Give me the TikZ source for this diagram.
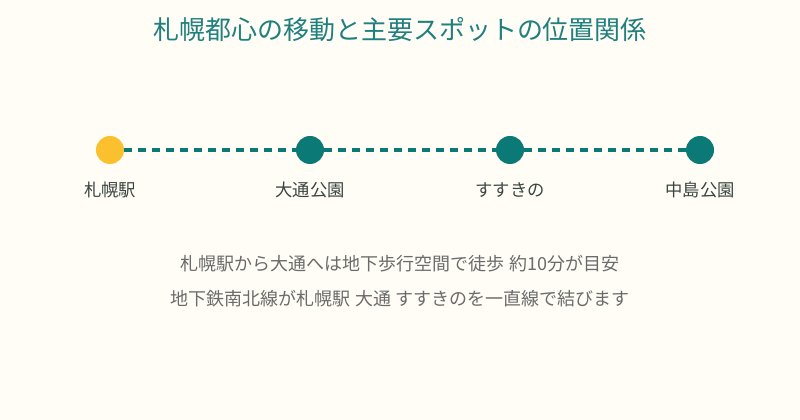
\documentclass[tikz,border=0pt]{standalone}
\usepackage{fontspec}
\setmainfont{Noto Sans CJK JP}
\definecolor{bg}{HTML}{FFFDF6}
\definecolor{teal}{HTML}{0B7A77}
\definecolor{gold}{HTML}{FBC02D}
\definecolor{titlec}{HTML}{1F807E}
\definecolor{labelc}{HTML}{3A4540}
\definecolor{bodyc}{HTML}{6B6B6B}
\begin{document}
\begin{tikzpicture}[x=0.75pt,y=-0.75pt,
  stop/.style={circle,fill=teal,minimum size=21pt,inner sep=0pt},
  startstop/.style={stop,fill=gold},
  lbl/.style={font=\fontsize{13}{15}\selectfont,text=labelc,text height=0.85em,text depth=0.15em},
  body/.style={font=\fontsize{13.5}{16}\selectfont,text=bodyc,text height=0.85em,text depth=0.15em},
  track/.style={teal,line width=3pt,dash pattern=on 6pt off 4.5pt}]
\fill[bg] (0,0) rectangle (800,420);
\useasboundingbox (0,0) rectangle (800,420);
\node[font=\fontsize{19.5}{22}\selectfont,text=titlec,text height=0.85em,text depth=0.15em] (title) at (400,35) {札幌都心の移動と主要スポットの位置関係};
\node[startstop] (s1) at (110,150) {};
\node[stop] (s2) at (310,150) {};
\node[stop] (s3) at (510,150) {};
\node[stop] (s4) at (700,150) {};
\draw[track] (s1) -- (s2);
\draw[track] (s2) -- (s3);
\draw[track] (s3) -- (s4);
\node[lbl] (l1) at (110,192) {札幌駅};
\node[lbl] (l2) at (310,192) {大通公園};
\node[lbl] (l3) at (510,192) {すすきの};
\node[lbl] (l4) at (700,192) {中島公園};
\node[body] (b1) at (400,266) {札幌駅から大通へは地下歩行空間で徒歩 約10分が目安};
\node[body] (b2) at (400,301) {地下鉄南北線が札幌駅 大通 すすきのを一直線で結びます};
\end{tikzpicture}
\end{document}
